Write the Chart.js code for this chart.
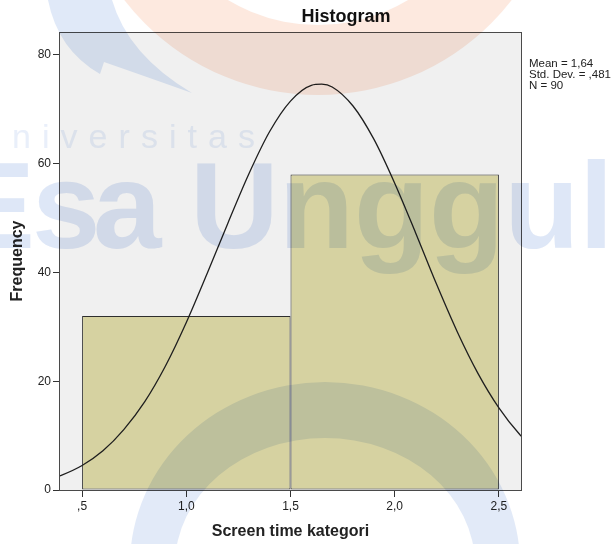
<!DOCTYPE html>
<html>
<head>
<meta charset="utf-8">
<script src="https://cdn.jsdelivr.net/npm/chart.js@4.4.1/dist/chart.umd.min.js"></script>
<style>
  html, body { margin: 0; padding: 0; background: #ffffff; }
  #wrap { width: 616px; height: 544px; }
</style>
</head>
<body>
<div id="wrap"><canvas id="c" width="616" height="544"></canvas></div>
<script>
// ---- data ----
const binCenters = [1.0, 2.0];
const frequencies = [32, 58];
const curveX = [0.3, 0.4, 0.5, 0.6, 0.7, 0.8, 0.9, 1.0, 1.1, 1.2, 1.3, 1.4, 1.5, 1.6, 1.65, 1.7, 1.8, 1.9, 2.0, 2.1, 2.2, 2.3, 2.4, 2.5, 2.6, 2.7];
const curveY = [1.5, 2.7, 4.5, 7.2, 11.1, 16.2, 22.8, 30.8, 39.8, 49.1, 58.1, 65.9, 71.5, 74.4, 74.6, 74.1, 70.6, 64.5, 56.4, 47.3, 37.9, 29.1, 21.4, 15.1, 10.2, 6.6];
const xTickValues = [0.5, 1.0, 1.5, 2.0, 2.5];
const xTickLabels = [",5", "1,0", "1,5", "2,0", "2,5"];
const yTickValues = [0, 20, 40, 60, 80];
const yTickLabels = ["0", "20", "40", "60", "80"];
const statLines = ["Mean = 1,64", "Std. Dev. = ,481", "N = 90"];
const xTitle = "Screen time kategori";
const yTitle = "Frequency";
const chartTitle = "Histogram";

Chart.defaults.font.family = '"Liberation Sans", Arial, sans-serif';

const bgPlugin = {
  id: 'bgPlugin',
  beforeDraw(chart) {
    const ctx = chart.ctx, a = chart.chartArea;
    ctx.save();
    ctx.fillStyle = '#ffffff';
    ctx.fillRect(0, 0, chart.width, chart.height);
    ctx.fillStyle = '#f0f0f0';
    ctx.fillRect(a.left, a.top, a.right - a.left, a.bottom - a.top);
    ctx.restore();
  },
  afterLayout(chart) {
    const t = chart.titleBlock;
    if (t) { const w = t.right - t.left; const cx = 346; t.left = cx - w / 2; t.right = cx + w / 2; }
  },
  afterDatasetsDraw(chart) {
    const ctx = chart.ctx, a = chart.chartArea;
    ctx.save();
    ctx.strokeStyle = '#4a4a4a';
    ctx.lineWidth = 1;
    ctx.strokeRect(Math.round(a.left) - 0.5, Math.round(a.top) + 0.5, Math.round(a.right - a.left) + 1, Math.round(a.bottom - a.top));
    ctx.restore();
  },
  afterDraw(chart) {
    const ctx = chart.ctx, a = chart.chartArea;
    ctx.save();
    ctx.fillStyle = '#222222';
    ctx.font = '11.5px "Liberation Sans", Arial, sans-serif';
    ctx.textAlign = 'left';
    ctx.textBaseline = 'alphabetic';
    statLines.forEach((s, i) => ctx.fillText(s, a.right + 8, 66.5 + i * 11));
    ctx.restore();

    // watermark overlay
    ctx.save();
    ctx.globalCompositeOperation = 'multiply';
    // orange ring at top
    ctx.fillStyle = 'rgb(253,233,223)';
    ctx.beginPath();
    ctx.arc(318, -150, 245, 0, Math.PI * 2);
    ctx.moveTo(318 + 175, -150);
    ctx.arc(318, -150, 175, 0, Math.PI * 2, true);
    ctx.fill();
    // blue band top-left
    ctx.fillStyle = 'rgb(224,233,248)';
    ctx.beginPath();
    ctx.moveTo(48, 0);
    ctx.quadraticCurveTo(58, 50, 100, 74);
    ctx.lineTo(104, 62);
    ctx.quadraticCurveTo(150, 78, 192, 93);
    ctx.quadraticCurveTo(128, 55, 112, 0);
    ctx.closePath();
    ctx.fill();
    // bottom horseshoe ring
    ctx.fillStyle = 'rgb(226,234,248)';
    ctx.beginPath();
    ctx.ellipse(325, 565, 195, 183, 0, 0, Math.PI * 2);
    ctx.moveTo(325 + 150, 565);
    ctx.ellipse(325, 565, 150, 127, 0, 0, Math.PI * 2, true);
    ctx.fill();
    // "Esa Unggul"
    ctx.fillStyle = 'rgb(222,231,247)';
    ctx.font = 'bold 123px "Liberation Sans", Arial, sans-serif';
    ctx.textBaseline = 'alphabetic';
    ctx.textAlign = 'left';
    ctx.fillText('E', -47, 248);
    ctx.fillText('s', 32, 248);
    ctx.fillText('a', 93, 248);
    ctx.fillText('Unggul', 190, 248);
    // "niversitas"
    ctx.fillStyle = 'rgb(233,239,250)';
    ctx.font = '34px "Liberation Sans", Arial, sans-serif';
    const word = 'niversitas';
    let total = 0;
    for (const ch of word) total += ctx.measureText(ch).width;
    const sp = (243 - total) / (word.length - 1);
    let x = 12;
    for (const ch of word) { ctx.fillText(ch, x, 148); x += ctx.measureText(ch).width + sp; }
    ctx.restore();
  }
};

new Chart(document.getElementById('c'), {
  type: 'bar',
  data: {
    datasets: [
      {
        type: 'line',
        label: 'Normal',
        data: curveX.map((x, i) => ({ x: x, y: curveY[i] })),
        borderColor: '#1e1e1e',
        borderWidth: 1.3,
        pointRadius: 0,
        fill: false,
        cubicInterpolationMode: 'monotone',
        order: 0
      },
      {
        type: 'bar',
        label: 'Frequency',
        data: binCenters.map((x, i) => ({ x: x, y: frequencies[i] })),
        backgroundColor: '#d6d2a1',
        borderColor: '#2e2e2e',
        borderWidth: 1,
        borderSkipped: false,
        categoryPercentage: 1,
        barPercentage: 2,
        order: 1
      }
    ]
  },
  options: {
    responsive: false,
    animation: false,
    devicePixelRatio: 1,
    layout: { padding: { left: 0, right: 95, top: 0, bottom: 0 } },
    plugins: {
      legend: { display: false },
      tooltip: { enabled: false },
      title: {
        display: true,
        text: chartTitle,
        color: '#111111',
        font: { size: 18, weight: 'bold' },
        padding: { top: 6, bottom: 4.4 }
      }
    },
    scales: {
      x: {
        type: 'linear',
        min: 0.394,
        max: 2.606,
        offset: false,
        afterBuildTicks: s => { s.ticks = xTickValues.map(v => ({ value: v })); },
        afterFit: s => { s.height = 54; },
        grid: { offset: false, drawOnChartArea: false, drawTicks: true, tickLength: 7, color: '#333333', lineWidth: 1 },
        border: { display: false },
        ticks: {
          callback: (v, i) => xTickLabels[i],
          color: '#222222',
          font: { size: 12 },
          padding: 2,
          maxRotation: 0,
          autoSkip: false
        },
        title: {
          display: true,
          text: xTitle,
          color: '#222222',
          font: { size: 16, weight: 'bold' },
          padding: { top: 0, bottom: 3 }
        }
      },
      y: {
        min: 0,
        max: 84.2,
        afterBuildTicks: s => { s.ticks = yTickValues.map(v => ({ value: v })); },
        afterFit: s => { s.width = 60; },
        grid: { offset: false, drawOnChartArea: false, drawTicks: true, tickLength: 7, color: '#333333', lineWidth: 1 },
        border: { display: false },
        ticks: {
          callback: (v, i) => yTickLabels[i],
          color: '#222222',
          font: { size: 12 },
          padding: 2
        },
        title: {
          display: true,
          text: yTitle,
          color: '#222222',
          font: { size: 16, weight: 'bold' },
          padding: { top: 8.4, bottom: 0 }
        }
      }
    }
  },
  plugins: [bgPlugin]
});
</script>
</body>
</html>
